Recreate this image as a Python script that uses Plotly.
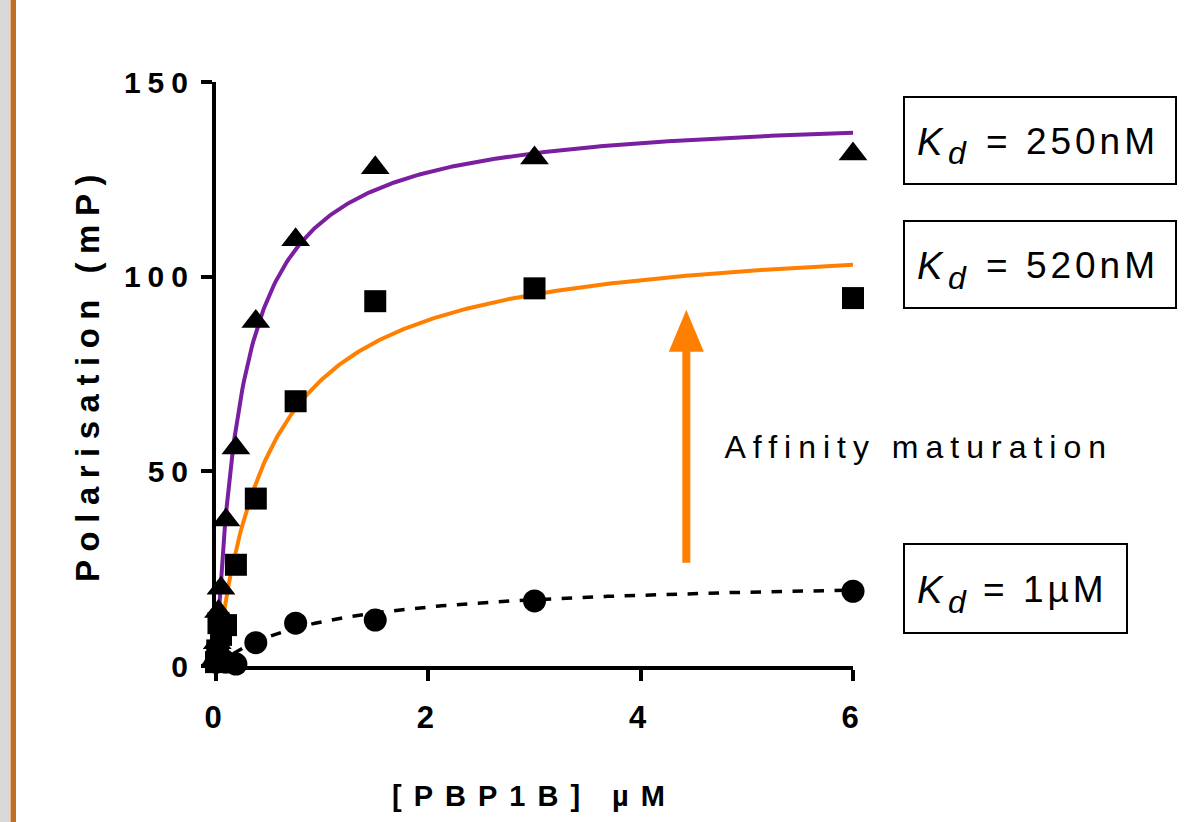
import numpy as np
import plotly.graph_objects as go

# ---- data ----
conc = [0, 0.0117, 0.0234, 0.0469, 0.094, 0.1875, 0.375, 0.75, 1.5, 3, 6]
pol_250nM = [2, 6, 14, 20, 37.5, 56, 88.5, 109.5, 128, 130.5, 131.5]
pol_520nM = [1, 4, 11, 8, 10.5, 26, 43, 68, 93.7, 97, 94.5]
pol_1uM = [1, 2, 3, 2, 1, 0.5, 6, 11, 11.8, 16.7, 19.2]

# one-site binding fits: Kd from the labels, Bmax estimated from the plot
kd_250, bmax_250 = 0.25, 142.7
kd_520, bmax_520 = 0.52, 112.0
kd_1uM, bmax_1uM = 1.0, 22.75

kd_labels = ["= 250nM", "= 520nM", "= 1µM"]

x_tick_vals = [0, 2, 4, 6]
y_tick_vals = [0, 50, 100, 150]

# "Affinity maturation" arrow (data units)
arrow_x, arrow_y_tail, arrow_y_tip = 4.43, 26.5, 91.5
arrow_head_len, arrow_head_halfw = 10.8, 0.165

PURPLE = "#7a1fa0"
ORANGE = "#ff8000"
FONT = "Liberation Sans, Arial, sans-serif"

def fit(xs, bmax, kd):
    xs = np.asarray(xs, dtype=float)
    return bmax * xs / (kd + xs)

x_fit_a = np.linspace(0.0234, 6, 400)
x_fit_b = np.linspace(0.0469, 6, 400)
x_fit_c = np.linspace(0, 6, 400)

fig = go.Figure()
fig.add_trace(go.Scatter(x=x_fit_a, y=fit(x_fit_a, bmax_250, kd_250), mode="lines",
                         line=dict(color=PURPLE, width=4), cliponaxis=False, showlegend=False))
fig.add_trace(go.Scatter(x=x_fit_b, y=fit(x_fit_b, bmax_520, kd_520), mode="lines",
                         line=dict(color=ORANGE, width=4), cliponaxis=False, showlegend=False))
fig.add_trace(go.Scatter(x=x_fit_c, y=fit(x_fit_c, bmax_1uM, kd_1uM), mode="lines",
                         line=dict(color="black", width=3.5, dash="dash"), cliponaxis=False, showlegend=False))

fig.add_trace(go.Scatter(x=conc, y=pol_1uM, mode="markers", cliponaxis=False, showlegend=False,
                         marker=dict(symbol="circle", size=23, color="black")))
fig.add_trace(go.Scatter(x=conc, y=pol_520nM, mode="markers", cliponaxis=False, showlegend=False,
                         marker=dict(symbol="square", size=22, color="black")))
fig.add_trace(go.Scatter(x=conc, y=pol_250nM, mode="markers", cliponaxis=False, showlegend=False,
                         marker=dict(symbol="triangle-up", size=25, color="black")))

L, R, T, B = 216, 337, 82, 156
W, H = 1190, 822
pw, ph = W - L - R, H - T - B

def px(xp):
    return (xp - L) / pw

def py(yp):
    return (H - B - yp) / ph

fig.update_layout(
    width=W, height=H,
    margin=dict(l=L, r=R, t=T, b=B, pad=0),
    paper_bgcolor="white", plot_bgcolor="white",
    font=dict(family=FONT, color="black", size=30),
    xaxis=dict(range=[0, 6], tickvals=x_tick_vals, showgrid=False, zeroline=False,
               showline=True, linecolor="black", linewidth=4,
               ticks="outside", ticklen=11, tickwidth=4, tickcolor="black",
               ticklabelstandoff=10,
               tickfont=dict(size=31, family=FONT, weight="bold"),
               title=dict(text="[PBP1B] µM", font=dict(size=29, family=FONT, weight="bold"), standoff=52)),
    yaxis=dict(range=[0, 150], tickvals=y_tick_vals, showgrid=False, zeroline=False,
               showline=True, linecolor="black", linewidth=4,
               ticks="outside", ticklen=11, tickwidth=4, tickcolor="black",
               tickfont=dict(size=30, family=FONT, weight="bold"),
               title=dict(text="Polarisation (mP)", font=dict(size=33, family=FONT, weight="bold"), standoff=36)),
)

# left border decoration
fig.add_shape(type="rect", xref="paper", yref="paper", x0=px(0), x1=px(10), y0=py(W), y1=py(0),
              fillcolor="#d9d9d9", line=dict(width=0), layer="below")
fig.add_shape(type="rect", xref="paper", yref="paper", x0=px(10.5), x1=px(16), y0=py(W), y1=py(0),
              fillcolor="#bf6f22", line=dict(width=0), layer="below")

# Kd boxes: (label, box left, box right, box top, box bottom, centre of the "= ..." text)
boxes = [(kd_labels[0], 903, 1177, 96, 185, 1072),
         (kd_labels[1], 903, 1177, 220, 309, 1072),
         (kd_labels[2], 903, 1128, 543, 634, 1045)]
for txt, x0, x1, y0, y1, tc in boxes:
    yc = (y0 + y1) / 2
    fig.add_shape(type="rect", xref="paper", yref="paper", x0=px(x0 + 1), x1=px(x1 - 1),
                  y0=py(y1 - 1), y1=py(y0 + 1), line=dict(color="black", width=2))
    fig.add_annotation(xref="paper", yref="paper", x=px(930), y=py(yc + 1), xanchor="center",
                       yanchor="middle", text="K", showarrow=False,
                       font=dict(size=38, family=FONT, color="black", style="italic"))
    fig.add_annotation(xref="paper", yref="paper", x=px(957), y=py(yc + 13), xanchor="center",
                       yanchor="middle", text="d", showarrow=False,
                       font=dict(size=32, family=FONT, color="black", style="italic"))
    fig.add_annotation(xref="paper", yref="paper", x=px(tc), y=py(yc + 1), xanchor="center",
                       yanchor="middle", text=txt, showarrow=False,
                       font=dict(size=37, family=FONT, color="black"))

# arrow: shaft + head
fig.add_shape(type="line", xref="x", yref="y", x0=arrow_x, x1=arrow_x,
              y0=arrow_y_tail, y1=arrow_y_tip - arrow_head_len + 0.5,
              line=dict(color=ORANGE, width=8))
fig.add_shape(type="path", xref="x", yref="y",
              path=(f"M{arrow_x - arrow_head_halfw},{arrow_y_tip - arrow_head_len} "
                    f"L{arrow_x + arrow_head_halfw},{arrow_y_tip - arrow_head_len} "
                    f"L{arrow_x},{arrow_y_tip} Z"),
              fillcolor=ORANGE, line=dict(width=0))

fig.add_annotation(xref="paper", yref="paper", x=px(919), y=py(447), xanchor="center", yanchor="middle",
                   text="Affinity maturation", showarrow=False,
                   font=dict(size=32, family=FONT, color="black"))

# the reference typesets its labels with wide letter spacing
post = """
var gd = document.getElementById('{plot_id}');
function sp(sel, v){ gd.querySelectorAll(sel).forEach(function(t){ t.style.letterSpacing = v; }); }
sp('.xtick text', '6px');
sp('.ytick text', '7px');
sp('.g-xtitle text', '12px');
sp('.g-ytitle text', '8.5px');
gd.querySelectorAll('.annotation-text').forEach(function(t){
  var s = t.textContent || '';
  if (s.indexOf('Affinity') >= 0) { t.style.letterSpacing = '7px'; }
  else if (s.indexOf('=') >= 0) { t.style.letterSpacing = '4px'; }
});
"""

fig.write_html("out.html", post_script=post)
